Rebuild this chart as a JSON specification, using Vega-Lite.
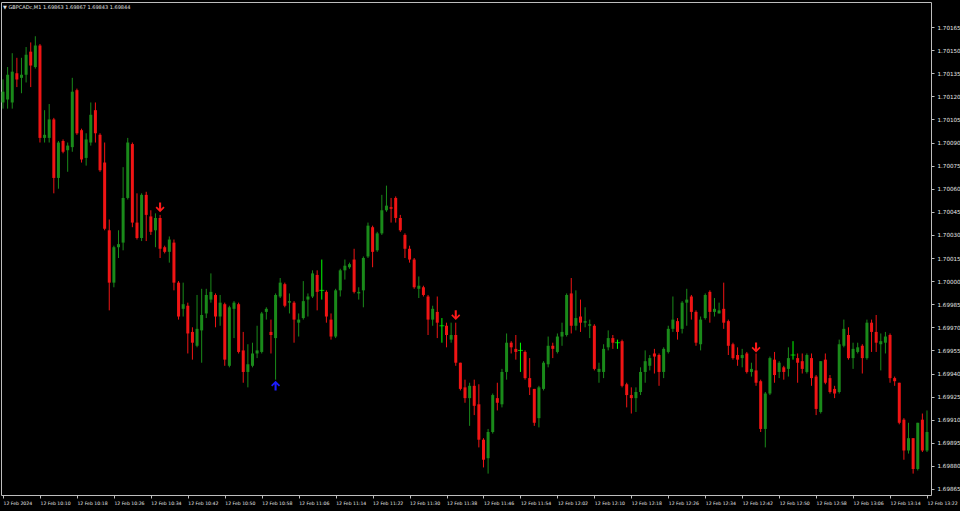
{
"$schema":"https://vega.github.io/schema/vega-lite/v6.json",
"width":930,"height":493,
"autosize":{"type":"none"},
"padding":{"left":1,"top":2,"right":29,"bottom":16},
"background":"#000000",
"title":{"text":"▼ GBPCADc,M1  1.69863 1.69867 1.69843 1.69844","anchor":"start","frame":"group","offset":-8,"fontSize":5,"font":"DejaVu Sans","fontWeight":"normal","color":"#e0e0e0","dx":2},
"config":{"view":{"stroke":"#bdbdbd","strokeWidth":1},"scale":{"continuousPadding":0},"axis":{"grid":false,"domain":false,"labelColor":"#e6e6e6","tickColor":"#bdbdbd","labelFont":"DejaVu Sans","titleColor":"#e6e6e6","labelOverlap":false},"axisY":{"labelOverlap":false}},
"data":{"format":{"parse":{"t":"utc:'%Y-%m-%d %H:%M'"}},"values":[
{"t":"2024-02-12 10:02","o":1.70116,"h":1.70131,"l":1.70112,"c":1.70123},
{"t":"2024-02-12 10:03","o":1.70118,"h":1.70139,"l":1.70112,"c":1.70134},
{"t":"2024-02-12 10:04","o":1.70116,"h":1.70148,"l":1.70112,"c":1.70136},
{"t":"2024-02-12 10:05","o":1.70135,"h":1.70145,"l":1.70126,"c":1.70131},
{"t":"2024-02-12 10:06","o":1.70132,"h":1.70145,"l":1.70122,"c":1.70134},
{"t":"2024-02-12 10:07","o":1.70134,"h":1.70152,"l":1.70129,"c":1.70147},
{"t":"2024-02-12 10:08","o":1.70149,"h":1.70155,"l":1.70126,"c":1.70140},
{"t":"2024-02-12 10:09","o":1.70139,"h":1.70159,"l":1.70138,"c":1.70153},
{"t":"2024-02-12 10:10","o":1.70153,"h":1.70154,"l":1.70090,"c":1.70093},
{"t":"2024-02-12 10:11","o":1.70093,"h":1.70111,"l":1.70090,"c":1.70095},
{"t":"2024-02-12 10:12","o":1.70093,"h":1.70115,"l":1.70090,"c":1.70105},
{"t":"2024-02-12 10:13","o":1.70105,"h":1.70106,"l":1.70057,"c":1.70067},
{"t":"2024-02-12 10:14","o":1.70067,"h":1.70091,"l":1.70060,"c":1.70090},
{"t":"2024-02-12 10:15","o":1.70091,"h":1.70092,"l":1.70083,"c":1.70084},
{"t":"2024-02-12 10:16","o":1.70085,"h":1.70090,"l":1.70071,"c":1.70088},
{"t":"2024-02-12 10:17","o":1.70087,"h":1.70132,"l":1.70084,"c":1.70123},
{"t":"2024-02-12 10:18","o":1.70124,"h":1.70125,"l":1.70095,"c":1.70096},
{"t":"2024-02-12 10:19","o":1.70098,"h":1.70099,"l":1.70077,"c":1.70079},
{"t":"2024-02-12 10:20","o":1.70080,"h":1.70096,"l":1.70075,"c":1.70092},
{"t":"2024-02-12 10:21","o":1.70090,"h":1.70116,"l":1.70088,"c":1.70108},
{"t":"2024-02-12 10:22","o":1.70111,"h":1.70116,"l":1.70090,"c":1.70096},
{"t":"2024-02-12 10:23","o":1.70095,"h":1.70096,"l":1.70071,"c":1.70072},
{"t":"2024-02-12 10:24","o":1.70077,"h":1.70090,"l":1.70033,"c":1.70034},
{"t":"2024-02-12 10:25","o":1.70033,"h":1.70040,"l":1.69981,"c":1.69999},
{"t":"2024-02-12 10:26","o":1.69999,"h":1.70023,"l":1.69996,"c":1.70022},
{"t":"2024-02-12 10:27","o":1.70022,"h":1.70033,"l":1.70015,"c":1.70024},
{"t":"2024-02-12 10:28","o":1.70025,"h":1.70074,"l":1.70020,"c":1.70054},
{"t":"2024-02-12 10:29","o":1.70054,"h":1.70093,"l":1.70053,"c":1.70090},
{"t":"2024-02-12 10:30","o":1.70089,"h":1.70090,"l":1.70035,"c":1.70038},
{"t":"2024-02-12 10:31","o":1.70038,"h":1.70057,"l":1.70027,"c":1.70028},
{"t":"2024-02-12 10:32","o":1.70028,"h":1.70057,"l":1.70026,"c":1.70056},
{"t":"2024-02-12 10:33","o":1.70056,"h":1.70058,"l":1.70026,"c":1.70043},
{"t":"2024-02-12 10:34","o":1.70042,"h":1.70046,"l":1.70030,"c":1.70032},
{"t":"2024-02-12 10:35","o":1.70033,"h":1.70044,"l":1.70022,"c":1.70041},
{"t":"2024-02-12 10:36","o":1.70041,"h":1.70043,"l":1.70015,"c":1.70021},
{"t":"2024-02-12 10:37","o":1.70022,"h":1.70023,"l":1.70018,"c":1.70019},
{"t":"2024-02-12 10:38","o":1.70019,"h":1.70029,"l":1.70012,"c":1.70027},
{"t":"2024-02-12 10:39","o":1.70025,"h":1.70027,"l":1.69994,"c":1.69999},
{"t":"2024-02-12 10:40","o":1.69999,"h":1.70000,"l":1.69975,"c":1.69977},
{"t":"2024-02-12 10:41","o":1.69982,"h":1.69999,"l":1.69977,"c":1.69985},
{"t":"2024-02-12 10:42","o":1.69984,"h":1.69986,"l":1.69953,"c":1.69966},
{"t":"2024-02-12 10:43","o":1.69967,"h":1.69970,"l":1.69949,"c":1.69960},
{"t":"2024-02-12 10:44","o":1.69958,"h":1.69991,"l":1.69957,"c":1.69969},
{"t":"2024-02-12 10:45","o":1.69968,"h":1.69995,"l":1.69947,"c":1.69978},
{"t":"2024-02-12 10:46","o":1.69979,"h":1.69995,"l":1.69976,"c":1.69991},
{"t":"2024-02-12 10:47","o":1.69988,"h":1.70005,"l":1.69986,"c":1.69993},
{"t":"2024-02-12 10:48","o":1.69991,"h":1.69992,"l":1.69970,"c":1.69977},
{"t":"2024-02-12 10:49","o":1.69977,"h":1.69991,"l":1.69971,"c":1.69986},
{"t":"2024-02-12 10:50","o":1.69985,"h":1.69986,"l":1.69945,"c":1.69949},
{"t":"2024-02-12 10:51","o":1.69945,"h":1.69984,"l":1.69944,"c":1.69983},
{"t":"2024-02-12 10:52","o":1.69982,"h":1.69987,"l":1.69963,"c":1.69986},
{"t":"2024-02-12 10:53","o":1.69985,"h":1.69986,"l":1.69953,"c":1.69954},
{"t":"2024-02-12 10:54","o":1.69955,"h":1.69967,"l":1.69934,"c":1.69941},
{"t":"2024-02-12 10:55","o":1.69941,"h":1.69959,"l":1.69931,"c":1.69946},
{"t":"2024-02-12 10:56","o":1.69945,"h":1.69960,"l":1.69944,"c":1.69953},
{"t":"2024-02-12 10:57","o":1.69953,"h":1.69971,"l":1.69950,"c":1.69955},
{"t":"2024-02-12 10:58","o":1.69954,"h":1.69980,"l":1.69953,"c":1.69979},
{"t":"2024-02-12 10:59","o":1.69980,"h":1.69983,"l":1.69975,"c":1.69982},
{"t":"2024-02-12 11:00","o":1.69967,"h":1.69975,"l":1.69953,"c":1.69965},
{"t":"2024-02-12 11:01","o":1.69963,"h":1.69992,"l":1.69936,"c":1.69991},
{"t":"2024-02-12 11:02","o":1.69990,"h":1.70002,"l":1.69989,"c":1.69999},
{"t":"2024-02-12 11:03","o":1.69998,"h":1.69999,"l":1.69983,"c":1.69984},
{"t":"2024-02-12 11:04","o":1.69986,"h":1.69992,"l":1.69979,"c":1.69987},
{"t":"2024-02-12 11:05","o":1.69986,"h":1.69987,"l":1.69960,"c":1.69975},
{"t":"2024-02-12 11:06","o":1.69973,"h":1.69979,"l":1.69964,"c":1.69975},
{"t":"2024-02-12 11:07","o":1.69976,"h":1.70000,"l":1.69975,"c":1.69987},
{"t":"2024-02-12 11:08","o":1.69988,"h":1.69992,"l":1.69977,"c":1.69990},
{"t":"2024-02-12 11:09","o":1.69990,"h":1.70007,"l":1.69989,"c":1.70005},
{"t":"2024-02-12 11:10","o":1.70004,"h":1.70007,"l":1.69981,"c":1.69993},
{"t":"2024-02-12 11:11","o":1.69994,"h":1.70014,"l":1.69988,"c":1.69994},
{"t":"2024-02-12 11:12","o":1.69993,"h":1.69994,"l":1.69973,"c":1.69977},
{"t":"2024-02-12 11:13","o":1.69975,"h":1.69979,"l":1.69962,"c":1.69964},
{"t":"2024-02-12 11:14","o":1.69964,"h":1.69995,"l":1.69963,"c":1.69994},
{"t":"2024-02-12 11:15","o":1.69994,"h":1.70008,"l":1.69990,"c":1.70007},
{"t":"2024-02-12 11:16","o":1.70007,"h":1.70014,"l":1.70001,"c":1.70010},
{"t":"2024-02-12 11:17","o":1.70009,"h":1.70012,"l":1.70008,"c":1.70011},
{"t":"2024-02-12 11:18","o":1.70014,"h":1.70021,"l":1.69992,"c":1.69993},
{"t":"2024-02-12 11:19","o":1.69992,"h":1.69996,"l":1.69988,"c":1.69993},
{"t":"2024-02-12 11:20","o":1.69994,"h":1.70016,"l":1.69983,"c":1.70015},
{"t":"2024-02-12 11:21","o":1.70016,"h":1.70038,"l":1.70015,"c":1.70036},
{"t":"2024-02-12 11:22","o":1.70035,"h":1.70036,"l":1.70009,"c":1.70019},
{"t":"2024-02-12 11:23","o":1.70020,"h":1.70032,"l":1.70019,"c":1.70031},
{"t":"2024-02-12 11:24","o":1.70031,"h":1.70056,"l":1.70030,"c":1.70046},
{"t":"2024-02-12 11:25","o":1.70046,"h":1.70062,"l":1.70045,"c":1.70049},
{"t":"2024-02-12 11:26","o":1.70048,"h":1.70054,"l":1.70038,"c":1.70047},
{"t":"2024-02-12 11:27","o":1.70054,"h":1.70055,"l":1.70038,"c":1.70041},
{"t":"2024-02-12 11:28","o":1.70041,"h":1.70043,"l":1.70032,"c":1.70033},
{"t":"2024-02-12 11:29","o":1.70030,"h":1.70031,"l":1.70015,"c":1.70021},
{"t":"2024-02-12 11:30","o":1.70021,"h":1.70023,"l":1.70012,"c":1.70014},
{"t":"2024-02-12 11:31","o":1.70014,"h":1.70015,"l":1.69995,"c":1.69996},
{"t":"2024-02-12 11:32","o":1.69995,"h":1.70003,"l":1.69989,"c":1.69997},
{"t":"2024-02-12 11:33","o":1.69996,"h":1.69997,"l":1.69990,"c":1.69991},
{"t":"2024-02-12 11:34","o":1.69990,"h":1.69991,"l":1.69965,"c":1.69975},
{"t":"2024-02-12 11:35","o":1.69975,"h":1.69984,"l":1.69971,"c":1.69982},
{"t":"2024-02-12 11:36","o":1.69980,"h":1.69990,"l":1.69963,"c":1.69973},
{"t":"2024-02-12 11:37","o":1.69971,"h":1.69976,"l":1.69960,"c":1.69971},
{"t":"2024-02-12 11:38","o":1.69971,"h":1.69973,"l":1.69957,"c":1.69965},
{"t":"2024-02-12 11:39","o":1.69962,"h":1.69973,"l":1.69960,"c":1.69965},
{"t":"2024-02-12 11:40","o":1.69965,"h":1.69973,"l":1.69945,"c":1.69947},
{"t":"2024-02-12 11:41","o":1.69947,"h":1.69947,"l":1.69929,"c":1.69930},
{"t":"2024-02-12 11:42","o":1.69931,"h":1.69936,"l":1.69921,"c":1.69924},
{"t":"2024-02-12 11:43","o":1.69924,"h":1.69934,"l":1.69906,"c":1.69932},
{"t":"2024-02-12 11:44","o":1.69932,"h":1.69936,"l":1.69913,"c":1.69919},
{"t":"2024-02-12 11:45","o":1.69920,"h":1.69933,"l":1.69892,"c":1.69897},
{"t":"2024-02-12 11:46","o":1.69897,"h":1.69898,"l":1.69879,"c":1.69884},
{"t":"2024-02-12 11:47","o":1.69885,"h":1.69904,"l":1.69875,"c":1.69902},
{"t":"2024-02-12 11:48","o":1.69902,"h":1.69927,"l":1.69901,"c":1.69926},
{"t":"2024-02-12 11:49","o":1.69924,"h":1.69934,"l":1.69916,"c":1.69921},
{"t":"2024-02-12 11:50","o":1.69920,"h":1.69943,"l":1.69918,"c":1.69941},
{"t":"2024-02-12 11:51","o":1.69941,"h":1.69966,"l":1.69936,"c":1.69960},
{"t":"2024-02-12 11:52","o":1.69960,"h":1.69961,"l":1.69953,"c":1.69957},
{"t":"2024-02-12 11:53","o":1.69956,"h":1.69965,"l":1.69949,"c":1.69954},
{"t":"2024-02-12 11:54","o":1.69955,"h":1.69960,"l":1.69941,"c":1.69955},
{"t":"2024-02-12 11:55","o":1.69954,"h":1.69955,"l":1.69936,"c":1.69937},
{"t":"2024-02-12 11:56","o":1.69937,"h":1.69950,"l":1.69926,"c":1.69931},
{"t":"2024-02-12 11:57","o":1.69930,"h":1.69930,"l":1.69906,"c":1.69908},
{"t":"2024-02-12 11:58","o":1.69911,"h":1.69932,"l":1.69905,"c":1.69931},
{"t":"2024-02-12 11:59","o":1.69930,"h":1.69948,"l":1.69929,"c":1.69947},
{"t":"2024-02-12 12:00","o":1.69946,"h":1.69964,"l":1.69944,"c":1.69958},
{"t":"2024-02-12 12:01","o":1.69958,"h":1.69960,"l":1.69950,"c":1.69956},
{"t":"2024-02-12 12:02","o":1.69954,"h":1.69966,"l":1.69953,"c":1.69964},
{"t":"2024-02-12 12:03","o":1.69964,"h":1.69973,"l":1.69958,"c":1.69967},
{"t":"2024-02-12 12:04","o":1.69965,"h":1.69992,"l":1.69964,"c":1.69991},
{"t":"2024-02-12 12:05","o":1.69992,"h":1.70002,"l":1.69966,"c":1.69971},
{"t":"2024-02-12 12:06","o":1.69971,"h":1.69994,"l":1.69968,"c":1.69976},
{"t":"2024-02-12 12:07","o":1.69977,"h":1.69988,"l":1.69967,"c":1.69973},
{"t":"2024-02-12 12:08","o":1.69973,"h":1.69983,"l":1.69970,"c":1.69974},
{"t":"2024-02-12 12:09","o":1.69971,"h":1.69975,"l":1.69963,"c":1.69972},
{"t":"2024-02-12 12:10","o":1.69971,"h":1.69972,"l":1.69942,"c":1.69943},
{"t":"2024-02-12 12:11","o":1.69941,"h":1.69947,"l":1.69934,"c":1.69943},
{"t":"2024-02-12 12:12","o":1.69941,"h":1.69959,"l":1.69937,"c":1.69956},
{"t":"2024-02-12 12:13","o":1.69957,"h":1.69968,"l":1.69955,"c":1.69963},
{"t":"2024-02-12 12:14","o":1.69963,"h":1.69965,"l":1.69956,"c":1.69960},
{"t":"2024-02-12 12:15","o":1.69960,"h":1.69962,"l":1.69956,"c":1.69960},
{"t":"2024-02-12 12:16","o":1.69961,"h":1.69962,"l":1.69931,"c":1.69932},
{"t":"2024-02-12 12:17","o":1.69933,"h":1.69934,"l":1.69918,"c":1.69926},
{"t":"2024-02-12 12:18","o":1.69926,"h":1.69931,"l":1.69914,"c":1.69924},
{"t":"2024-02-12 12:19","o":1.69924,"h":1.69931,"l":1.69915,"c":1.69928},
{"t":"2024-02-12 12:20","o":1.69928,"h":1.69944,"l":1.69926,"c":1.69941},
{"t":"2024-02-12 12:21","o":1.69941,"h":1.69955,"l":1.69934,"c":1.69948},
{"t":"2024-02-12 12:22","o":1.69945,"h":1.69952,"l":1.69942,"c":1.69950},
{"t":"2024-02-12 12:23","o":1.69953,"h":1.69956,"l":1.69940,"c":1.69951},
{"t":"2024-02-12 12:24","o":1.69952,"h":1.69953,"l":1.69932,"c":1.69941},
{"t":"2024-02-12 12:25","o":1.69941,"h":1.69957,"l":1.69937,"c":1.69956},
{"t":"2024-02-12 12:26","o":1.69954,"h":1.69971,"l":1.69953,"c":1.69969},
{"t":"2024-02-12 12:27","o":1.69969,"h":1.69990,"l":1.69967,"c":1.69975},
{"t":"2024-02-12 12:28","o":1.69974,"h":1.69976,"l":1.69962,"c":1.69967},
{"t":"2024-02-12 12:29","o":1.69969,"h":1.69987,"l":1.69966,"c":1.69986},
{"t":"2024-02-12 12:30","o":1.69986,"h":1.69995,"l":1.69971,"c":1.69988},
{"t":"2024-02-12 12:31","o":1.69990,"h":1.69991,"l":1.69975,"c":1.69980},
{"t":"2024-02-12 12:32","o":1.69980,"h":1.69981,"l":1.69958,"c":1.69960},
{"t":"2024-02-12 12:33","o":1.69959,"h":1.69977,"l":1.69955,"c":1.69975},
{"t":"2024-02-12 12:34","o":1.69976,"h":1.69992,"l":1.69975,"c":1.69991},
{"t":"2024-02-12 12:35","o":1.69993,"h":1.69994,"l":1.69973,"c":1.69980},
{"t":"2024-02-12 12:36","o":1.69980,"h":1.69989,"l":1.69977,"c":1.69982},
{"t":"2024-02-12 12:37","o":1.69979,"h":1.69986,"l":1.69979,"c":1.69981},
{"t":"2024-02-12 12:38","o":1.69982,"h":1.69999,"l":1.69969,"c":1.69973},
{"t":"2024-02-12 12:39","o":1.69974,"h":1.69975,"l":1.69952,"c":1.69958},
{"t":"2024-02-12 12:40","o":1.69959,"h":1.69960,"l":1.69949,"c":1.69950},
{"t":"2024-02-12 12:41","o":1.69952,"h":1.69957,"l":1.69945,"c":1.69949},
{"t":"2024-02-12 12:42","o":1.69950,"h":1.69956,"l":1.69944,"c":1.69952},
{"t":"2024-02-12 12:43","o":1.69953,"h":1.69954,"l":1.69940,"c":1.69941},
{"t":"2024-02-12 12:44","o":1.69941,"h":1.69947,"l":1.69938,"c":1.69943},
{"t":"2024-02-12 12:45","o":1.69942,"h":1.69953,"l":1.69932,"c":1.69934},
{"t":"2024-02-12 12:46","o":1.69935,"h":1.69936,"l":1.69902,"c":1.69904},
{"t":"2024-02-12 12:47","o":1.69904,"h":1.69928,"l":1.69892,"c":1.69927},
{"t":"2024-02-12 12:48","o":1.69927,"h":1.69951,"l":1.69926,"c":1.69950},
{"t":"2024-02-12 12:49","o":1.69949,"h":1.69954,"l":1.69934,"c":1.69939},
{"t":"2024-02-12 12:50","o":1.69941,"h":1.69948,"l":1.69937,"c":1.69947},
{"t":"2024-02-12 12:51","o":1.69944,"h":1.69945,"l":1.69936,"c":1.69941},
{"t":"2024-02-12 12:52","o":1.69943,"h":1.69957,"l":1.69938,"c":1.69950},
{"t":"2024-02-12 12:53","o":1.69952,"h":1.69961,"l":1.69949,"c":1.69952},
{"t":"2024-02-12 12:54","o":1.69950,"h":1.69953,"l":1.69934,"c":1.69947},
{"t":"2024-02-12 12:55","o":1.69948,"h":1.69953,"l":1.69940,"c":1.69943},
{"t":"2024-02-12 12:56","o":1.69941,"h":1.69953,"l":1.69940,"c":1.69952},
{"t":"2024-02-12 12:57","o":1.69950,"h":1.69953,"l":1.69932,"c":1.69937},
{"t":"2024-02-12 12:58","o":1.69938,"h":1.69939,"l":1.69913,"c":1.69917},
{"t":"2024-02-12 12:59","o":1.69915,"h":1.69948,"l":1.69914,"c":1.69948},
{"t":"2024-02-12 13:00","o":1.69949,"h":1.69953,"l":1.69933,"c":1.69934},
{"t":"2024-02-12 13:01","o":1.69937,"h":1.69939,"l":1.69927,"c":1.69928},
{"t":"2024-02-12 13:02","o":1.69930,"h":1.69932,"l":1.69924,"c":1.69927},
{"t":"2024-02-12 13:03","o":1.69928,"h":1.69962,"l":1.69927,"c":1.69959},
{"t":"2024-02-12 13:04","o":1.69958,"h":1.69975,"l":1.69957,"c":1.69969},
{"t":"2024-02-12 13:05","o":1.69965,"h":1.69970,"l":1.69949,"c":1.69950},
{"t":"2024-02-12 13:06","o":1.69950,"h":1.69960,"l":1.69943,"c":1.69956},
{"t":"2024-02-12 13:07","o":1.69954,"h":1.69960,"l":1.69953,"c":1.69957},
{"t":"2024-02-12 13:08","o":1.69958,"h":1.69959,"l":1.69940,"c":1.69950},
{"t":"2024-02-12 13:09","o":1.69950,"h":1.69975,"l":1.69949,"c":1.69973},
{"t":"2024-02-12 13:10","o":1.69973,"h":1.69975,"l":1.69954,"c":1.69967},
{"t":"2024-02-12 13:11","o":1.69967,"h":1.69978,"l":1.69954,"c":1.69960},
{"t":"2024-02-12 13:12","o":1.69959,"h":1.69966,"l":1.69942,"c":1.69961},
{"t":"2024-02-12 13:13","o":1.69960,"h":1.69967,"l":1.69953,"c":1.69964},
{"t":"2024-02-12 13:14","o":1.69965,"h":1.69966,"l":1.69934,"c":1.69937},
{"t":"2024-02-12 13:15","o":1.69937,"h":1.69938,"l":1.69932,"c":1.69935},
{"t":"2024-02-12 13:16","o":1.69934,"h":1.69934,"l":1.69907,"c":1.69908},
{"t":"2024-02-12 13:17","o":1.69910,"h":1.69911,"l":1.69884,"c":1.69890},
{"t":"2024-02-12 13:18","o":1.69890,"h":1.69908,"l":1.69888,"c":1.69898},
{"t":"2024-02-12 13:19","o":1.69898,"h":1.69898,"l":1.69875,"c":1.69878},
{"t":"2024-02-12 13:20","o":1.69878,"h":1.69908,"l":1.69877,"c":1.69908},
{"t":"2024-02-12 13:21","o":1.69910,"h":1.69914,"l":1.69889,"c":1.69890},
{"t":"2024-02-12 13:22","o":1.69890,"h":1.69916,"l":1.69889,"c":1.69902}
]},
"encoding":{
"x":{"field":"t","type":"temporal","title":null,
"scale":{"type":"utc","nice":false,"padding":0,"domain":[{"utc":true,"year":2024,"month":2,"date":12,"hours":10,"minutes":1,"seconds":34},{"utc":true,"year":2024,"month":2,"date":12,"hours":13,"minutes":22,"seconds":52}]},
"axis":{"orient":"bottom","tickSize":3,"tickCount":40,"labelPadding":2,"labelAlign":"left","labelBaseline":"top","labelFontSize":4.6,"labelOverlap":false,"labelFlush":false,
"labelExpr":"utcFormat(datum.value,'%H:%M')=='10:02' ? '12 Feb 2024' : utcFormat(datum.value,'%d %b %H:%M')",
"values":[
{"utc":true,"year":2024,"month":2,"date":12,"hours":10,"minutes":2},
{"utc":true,"year":2024,"month":2,"date":12,"hours":10,"minutes":10},
{"utc":true,"year":2024,"month":2,"date":12,"hours":10,"minutes":18},
{"utc":true,"year":2024,"month":2,"date":12,"hours":10,"minutes":26},
{"utc":true,"year":2024,"month":2,"date":12,"hours":10,"minutes":34},
{"utc":true,"year":2024,"month":2,"date":12,"hours":10,"minutes":42},
{"utc":true,"year":2024,"month":2,"date":12,"hours":10,"minutes":50},
{"utc":true,"year":2024,"month":2,"date":12,"hours":10,"minutes":58},
{"utc":true,"year":2024,"month":2,"date":12,"hours":11,"minutes":6},
{"utc":true,"year":2024,"month":2,"date":12,"hours":11,"minutes":14},
{"utc":true,"year":2024,"month":2,"date":12,"hours":11,"minutes":22},
{"utc":true,"year":2024,"month":2,"date":12,"hours":11,"minutes":30},
{"utc":true,"year":2024,"month":2,"date":12,"hours":11,"minutes":38},
{"utc":true,"year":2024,"month":2,"date":12,"hours":11,"minutes":46},
{"utc":true,"year":2024,"month":2,"date":12,"hours":11,"minutes":54},
{"utc":true,"year":2024,"month":2,"date":12,"hours":12,"minutes":2},
{"utc":true,"year":2024,"month":2,"date":12,"hours":12,"minutes":10},
{"utc":true,"year":2024,"month":2,"date":12,"hours":12,"minutes":18},
{"utc":true,"year":2024,"month":2,"date":12,"hours":12,"minutes":26},
{"utc":true,"year":2024,"month":2,"date":12,"hours":12,"minutes":34},
{"utc":true,"year":2024,"month":2,"date":12,"hours":12,"minutes":42},
{"utc":true,"year":2024,"month":2,"date":12,"hours":12,"minutes":50},
{"utc":true,"year":2024,"month":2,"date":12,"hours":12,"minutes":58},
{"utc":true,"year":2024,"month":2,"date":12,"hours":13,"minutes":6},
{"utc":true,"year":2024,"month":2,"date":12,"hours":13,"minutes":14},
{"utc":true,"year":2024,"month":2,"date":12,"hours":13,"minutes":22}
]}}
},
"layer":[
{"mark":{"type":"rule","strokeWidth":1},
 "encoding":{
  "y":{"field":"l","type":"quantitative","title":null,"scale":{"domain":[1.698611,1.7018125],"zero":false,"nice":false,"padding":0},
   "axis":{"orient":"right","tickCount":40,"values":[1.69865,1.6988,1.69895,1.6991,1.69925,1.6994,1.69955,1.6997,1.69985,1.7,1.70015,1.7003,1.70045,1.7006,1.70075,1.7009,1.70105,1.7012,1.70135,1.7015,1.70165],"format":".5f","tickSize":3,"labelPadding":3,"labelFontSize":5.6,"labelOverlap":false,"labelFlush":false}},
  "y2":{"field":"h"},
  "color":{"condition":[{"test":"datum.c > datum.o","value":"#1a8a1a"},{"test":"datum.c < datum.o","value":"#f01414"}],"value":"#00ff00"}
 }},
{"mark":{"type":"bar","size":3},
 "encoding":{
  "y":{"field":"o","type":"quantitative"},
  "y2":{"field":"c"},
  "color":{"condition":[{"test":"datum.c > datum.o","value":"#1a8a1a"}],"value":"#f01414"}
 }},
{"transform":[{"filter":"datum.o == datum.c"}],
 "mark":{"type":"tick","orient":"horizontal","size":5,"thickness":1,"color":"#00ff00"},
 "encoding":{"y":{"field":"o","type":"quantitative"}}},
{"data":{"format":{"parse":{"t":"utc:'%Y-%m-%d %H:%M'"}},"values":[
  {"t":"2024-02-12 10:36","p":1.70048,"dir":"down"},
  {"t":"2024-02-12 11:40","p":1.69978,"dir":"down"},
  {"t":"2024-02-12 12:45","p":1.69957,"dir":"down"}]},
 "mark":{"type":"point","filled":true,"opacity":1,"size":90,"color":"#ff1a1a","strokeWidth":0,
  "shape":"M-0.22,-1 L0.22,-1 L0.22,0.35 L0.7,-0.13 L0.95,0.12 L0,1.07 L-0.95,0.12 L-0.7,-0.13 L-0.22,0.35 Z"},
 "encoding":{"y":{"field":"p","type":"quantitative"}}},
{"data":{"format":{"parse":{"t":"utc:'%Y-%m-%d %H:%M'"}},"values":[
  {"t":"2024-02-12 11:01","p":1.69932,"dir":"up"}]},
 "mark":{"type":"point","filled":true,"opacity":1,"size":90,"color":"#1c1cff","strokeWidth":0,
  "shape":"M-0.22,1 L0.22,1 L0.22,-0.35 L0.7,0.13 L0.95,-0.12 L0,-1.07 L-0.95,-0.12 L-0.7,0.13 L-0.22,-0.35 Z"},
 "encoding":{"y":{"field":"p","type":"quantitative"}}}
]
}
